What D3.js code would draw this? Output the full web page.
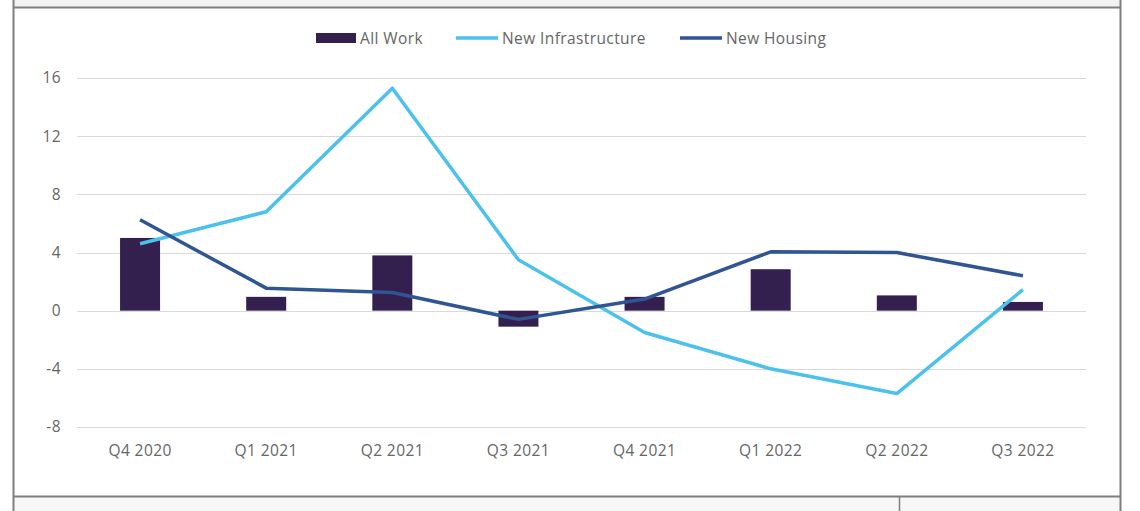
<!DOCTYPE html>
<html><head><meta charset="utf-8">
<script src="https://cdn.jsdelivr.net/npm/d3@7"></script>
<style>body{margin:0;background:#fff}svg{display:block}</style>
</head><body>
<svg id="c" width="1140" height="511"></svg>
<script>
const categories = ["Q4 2020","Q1 2021","Q2 2021","Q3 2021","Q4 2021","Q1 2022","Q2 2022","Q3 2022"];
const allWork = [5.0, 0.95, 3.8, -1.1, 0.95, 2.85, 1.05, 0.6];
const newInfrastructure = [4.6, 6.8, 15.3, 3.5, -1.5, -4.0, -5.7, 1.45];
const newHousing = [6.25, 1.55, 1.25, -0.6, 0.8, 4.05, 4.0, 2.4];
const yTicks = [-8,-4,0,4,8,12,16];
const legendItems = [
  {name:"All Work", type:"bar", color:"#33204f"},
  {name:"New Infrastructure", type:"line", color:"#4bc1ec"},
  {name:"New Housing", type:"line", color:"#2f5592"}
];

const svg = d3.select("#c");
const font = "'Open Sans', 'Liberation Sans', sans-serif";
const grey = "#666666";

// frame
svg.append("rect").attr("x",14).attr("y",0).attr("width",1106).attr("height",7).attr("fill","#f2f2f2");
svg.append("rect").attr("x",14).attr("y",497).attr("width",1106).attr("height",14).attr("fill","#f7f7f7");
svg.append("line").attr("x1",13).attr("x2",1121).attr("y1",7.5).attr("y2",7.5).attr("stroke","#7f7f7f").attr("stroke-width",2);
svg.append("line").attr("x1",13).attr("x2",1121).attr("y1",496.5).attr("y2",496.5).attr("stroke","#7f7f7f").attr("stroke-width",2);
svg.append("line").attr("x1",13.5).attr("x2",13.5).attr("y1",0).attr("y2",511).attr("stroke","#7f7f7f").attr("stroke-width",2);
svg.append("line").attr("x1",1120.5).attr("x2",1120.5).attr("y1",0).attr("y2",511).attr("stroke","#7f7f7f").attr("stroke-width",2);
svg.append("line").attr("x1",899.5).attr("x2",899.5).attr("y1",496).attr("y2",511).attr("stroke","#7f7f7f").attr("stroke-width",1.5);

const x = d3.scaleBand().domain(categories).range([77,1086]).paddingInner(0).paddingOuter(0);
const y = d3.scaleLinear().domain([-8,16]).range([427,78]);

// gridlines
const g = svg.append("g");
g.selectAll("line.grid").data(yTicks).join("line")
  .attr("x1",77).attr("x2",1086)
  .attr("y1",d=>Math.round(y(d))+0.5).attr("y2",d=>Math.round(y(d))+0.5)
  .attr("stroke","#d9d9d9").attr("stroke-width",1);

const txtStyle = sel => sel.attr("fill",grey).style("font-family",font).style("font-size","15.5px").style("letter-spacing","0.4px");

// y axis labels
const yAxis = d3.axisLeft(y).tickValues(yTicks).tickSize(0).tickPadding(0).tickFormat(d=>String(d));
const ya = svg.append("g").attr("transform","translate(61,0)").call(yAxis);
ya.select(".domain").remove();
ya.selectAll("text").call(txtStyle);

// x axis labels
const xAxis = d3.axisBottom(x).tickSize(0).tickPadding(0);
const xa = svg.append("g").attr("transform","translate(0,445)").call(xAxis);
xa.select(".domain").remove();
xa.selectAll("text").call(txtStyle);

// bars
const bw = 40;
svg.append("g").selectAll("rect").data(allWork).join("rect")
  .attr("x",(d,i)=>x(categories[i])+x.bandwidth()/2-bw/2)
  .attr("width",bw)
  .attr("y",d=>y(Math.max(0,d)))
  .attr("height",d=>Math.abs(y(d)-y(0)))
  .attr("fill","#33204f");

const line = d3.line().x((d,i)=>x(categories[i])+x.bandwidth()/2).y(d=>y(d));
svg.append("path").datum(newInfrastructure).attr("d",line).attr("fill","none")
  .attr("stroke","#4bc1ec").attr("stroke-width",3.5).attr("stroke-linejoin","round");
svg.append("path").datum(newHousing).attr("d",line).attr("fill","none")
  .attr("stroke","#2f5592").attr("stroke-width",3.5).attr("stroke-linejoin","round");

// legend
const lg = svg.append("g");
const lx = [316, 456, 680];
legendItems.forEach((it,i)=>{
  if(it.type==="bar"){
    lg.append("rect").attr("x",lx[i]).attr("y",33).attr("width",40).attr("height",10).attr("fill",it.color);
  } else {
    lg.append("line").attr("x1",lx[i]).attr("x2",lx[i]+42).attr("y1",38).attr("y2",38)
      .attr("stroke",it.color).attr("stroke-width",3.5);
  }
  lg.append("text").attr("x",lx[i]+(it.type==="bar"?44:46)).attr("y",44)
    .call(txtStyle).text(it.name);
});
</script>
</body></html>
